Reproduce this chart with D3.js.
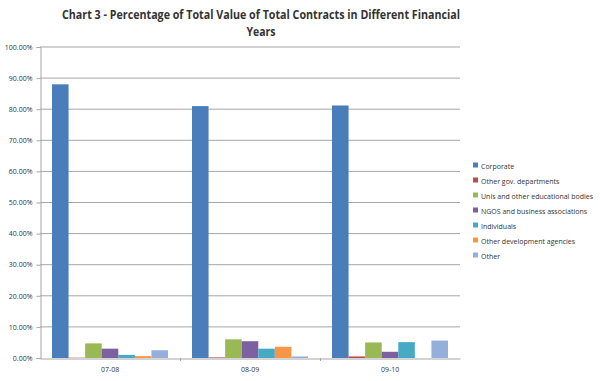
<!DOCTYPE html>
<html>
<head>
<meta charset="utf-8">
<script src="https://cdn.jsdelivr.net/npm/d3@7"></script>
<style>
  body { margin: 0; background: #fff; }
  svg text { font-family: "Open Sans", "DejaVu Sans", sans-serif; fill: #333; }
</style>
</head>
<body>
<div id="chart"></div>
<script>
let years = ["07-08", "08-09", "09-10"];
let seriesNames = ["Corporate", "Other gov. departments", "Unis and other educational bodies",
    "NGOS and business associations", "Individuals", "Other development agencies", "Other"];
let colors = ["#4a7ebb", "#be4b48", "#98b954", "#7d60a0", "#46aac5", "#f79646", "#94b0da"];
// one array per year, in series order
let vals0708 = [88.0, 0.1, 4.7, 3.0, 1.0, 0.6, 2.5];
let vals0809 = [81.0, 0.2, 6.0, 5.4, 3.0, 3.6, 0.5];
let vals0910 = [81.2, 0.5, 5.0, 2.0, 5.1, 0.0, 5.6];
let yTicks = [0, 10, 20, 30, 40, 50, 60, 70, 80, 90, 100];

let data = years.map((y, i) => ({ year: y, vals: [vals0708, vals0809, vals0910][i] }));

let margin = { top: 47, left: 40, right: 140, bottom: 23 };
let width = 600, height = 381;
let plotW = width - margin.left - margin.right;
let plotH = height - margin.top - margin.bottom;

let svg = d3.select("#chart").append("svg")
    .attr("width", width)
    .attr("height", height);

let x0 = d3.scaleBand().domain(years).range([0, plotW]).paddingInner(0).paddingOuter(0);
let x1 = d3.scaleBand().domain(d3.range(seriesNames.length))
    .range([12, x0.bandwidth() - 12]).padding(0);
let yScale = d3.scaleLinear().domain([0, 100]).range([plotH, 0]);

let plot = svg.append("g").attr("transform", `translate(${margin.left},${margin.top})`);

// gridlines
plot.append("g").selectAll("line").data(yTicks.filter(d => d > 0)).join("line")
    .attr("x1", 0).attr("x2", plotW)
    .attr("y1", d => yScale(d)).attr("y2", d => yScale(d))
    .attr("stroke", "#a6a6a6").attr("stroke-width", 1);

// y axis
let yAxis = d3.axisLeft(yScale).tickValues(yTicks).tickSize(4).tickPadding(4)
    .tickFormat(d => d.toFixed(2) + "%");
let gy = plot.append("g").attr("transform", "translate(0.5,0)").call(yAxis);
gy.select(".domain").attr("stroke", "#a6a6a6");
gy.selectAll(".tick line").attr("stroke", "#a6a6a6");
gy.selectAll("text").style("font-size", "7px").attr("fill", "#333");

// bars
let groups = plot.selectAll(".grp").data(data).join("g")
    .attr("transform", d => `translate(${x0(d.year)},0)`);
groups.selectAll("rect").data(d => d.vals).join("rect")
    .attr("x", (d, i) => x1(i))
    .attr("width", x1.bandwidth())
    .attr("y", d => yScale(d))
    .attr("height", d => plotH - yScale(d))
    .attr("fill", (d, i) => colors[i]);

// x axis
let xAxis = d3.axisBottom(x0).tickSize(0).tickPadding(9);
let gx = plot.append("g").attr("transform", `translate(0,${plotH + 0.5})`).call(xAxis);
gx.select(".domain").attr("stroke", "#a6a6a6");
gx.selectAll("text").style("font-size", "7px").attr("fill", "#333");
plot.append("g").selectAll("line").data(years.slice(1)).join("line")
    .attr("x1", d => x0(d) + 0.5).attr("x2", d => x0(d) + 0.5)
    .attr("y1", plotH).attr("y2", plotH + 3)
    .attr("stroke", "#a6a6a6");

// title, two lines
let titleLines = ["Chart 3 - Percentage of Total Value of Total Contracts in Different Financial", "Years"];
let titleWidths = [398, 29];
svg.append("g").selectAll("text").data(titleLines).join("text")
    .attr("x", 261).attr("y", (d, i) => 19 + i * 16.5)
    .attr("text-anchor", "middle")
    .attr("textLength", (d, i) => titleWidths[i]).attr("lengthAdjust", "spacingAndGlyphs")
    .style("font-size", "11.5px").style("font-weight", "bold").attr("fill", "#1a1a1a")
    .text(d => d);

// legend
let legend = svg.append("g").attr("transform", "translate(473,167)");
let li = legend.selectAll("g").data(seriesNames).join("g")
    .attr("transform", (d, i) => `translate(0,${i * 15})`);
li.append("rect").attr("x", 0).attr("y", -4.5).attr("width", 5).attr("height", 5)
    .attr("fill", (d, i) => colors[i]);
li.append("text").attr("x", 8).attr("y", 0).attr("dy", "0.35em")
    .style("font-size", "7px").attr("fill", "#333").text(d => d);
</script>
</body>
</html>
